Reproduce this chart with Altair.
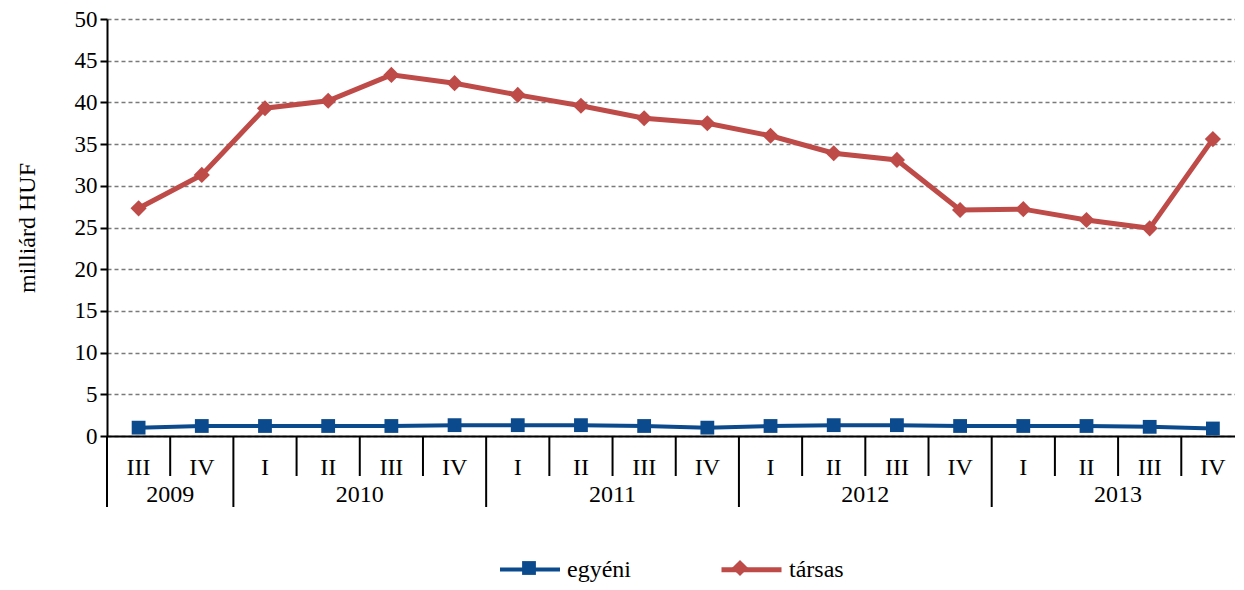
import altair as alt
import pandas as pd

years = ["2009", "2009", "2010", "2010", "2010", "2010", "2011", "2011", "2011", "2011",
         "2012", "2012", "2012", "2012", "2013", "2013", "2013", "2013"]
quarters = ["III", "IV", "I", "II", "III", "IV", "I", "II", "III", "IV",
            "I", "II", "III", "IV", "I", "II", "III", "IV"]
egyeni = [1.0, 1.2, 1.2, 1.2, 1.2, 1.3, 1.3, 1.3, 1.2, 1.0,
          1.2, 1.3, 1.3, 1.2, 1.2, 1.2, 1.1, 0.9]
tarsas = [27.3, 31.3, 39.3, 40.2, 43.3, 42.3, 40.9, 39.6, 38.1, 37.5,
          36.0, 33.9, 33.1, 27.1, 27.2, 25.9, 24.9, 35.6]
series_names = ["egyéni", "társas"]
colors = ["#0B4A8C", "#BE4B48"]
widths = [4, 5]
shapes = ["M-0.23,-0.23H0.23V0.23H-0.23Z", "M0,-0.27L0.27,0L0,0.27L-0.27,0Z"]

FONT = "Liberation Serif"
FS = 24
W, H = 1128, 417
XDOM = [0, 17.85]

n = len(quarters)
pos = [i + 0.5 for i in range(n)]
df = pd.DataFrame({
    "pos": pos * 2,
    "value": egyeni + tarsas,
    "series": [series_names[0]] * n + [series_names[1]] * n,
})
qdf = pd.DataFrame({"pos": pos, "quarter": quarters, "year": years,
                    "b": [p - 0.5 for p in pos]})
qdf["long"] = (qdf["quarter"] == "I") | (qdf["b"] == 0)
ydf = qdf.groupby("year", as_index=False)["pos"].mean()

xs = alt.Scale(domain=XDOM, nice=False, zero=False)
ys = alt.Scale(domain=[0, 50], nice=False)

base_x_axis = alt.Axis(labels=False, ticks=False, grid=False, title=None,
                       domain=True, domainColor="black", domainWidth=2)

short_rules = alt.Chart(qdf).transform_filter("!datum.long").mark_rule(
    color="black", strokeWidth=2).encode(
    x=alt.X("b:Q", scale=xs, axis=base_x_axis),
    y=alt.value(H), y2=alt.value(H + 40))
long_rules = alt.Chart(qdf).transform_filter("datum.long").mark_rule(
    color="black", strokeWidth=2).encode(
    x=alt.X("b:Q", scale=xs), y=alt.value(H), y2=alt.value(H + 71))
qtext = alt.Chart(qdf).mark_text(font=FONT, fontSize=FS, color="black",
                                 baseline="middle", align="center").encode(
    x=alt.X("pos:Q", scale=xs), y=alt.value(H + 32), text="quarter:N")
ytext = alt.Chart(ydf).mark_text(font=FONT, fontSize=FS, color="black",
                                 baseline="middle", align="center").encode(
    x=alt.X("pos:Q", scale=xs), y=alt.value(H + 59), text="year:N")

legend_common = dict(orient="none", legendX=391, legendY=518, direction="horizontal",
                     title=None, symbolSize=3600, labelFont=FONT, labelFontSize=FS,
                     labelColor="black", labelOffset=5, columnPadding=80)

lines = alt.Chart(df).mark_line().encode(
    x=alt.X("pos:Q", scale=xs),
    y=alt.Y("value:Q", scale=ys, axis=alt.Axis(
        values=list(range(0, 51, 5)), title="milliárd HUF")),
    stroke=alt.Stroke("series:N", scale=alt.Scale(domain=series_names, range=colors),
                      legend=alt.Legend(symbolType="stroke", symbolStrokeWidth=4.5,
                                        **legend_common)),
    strokeWidth=alt.StrokeWidth("series:N", scale=alt.Scale(domain=series_names, range=widths),
                                legend=None),
    detail="series:N")

points = alt.Chart(df).mark_point(filled=True, size=3600, opacity=1).encode(
    x=alt.X("pos:Q", scale=xs),
    y=alt.Y("value:Q", scale=ys),
    fill=alt.Fill("series:N", scale=alt.Scale(range=colors),
                  legend=alt.Legend(labelOpacity=0, **legend_common)),
    shape=alt.Shape("series:N", scale=alt.Scale(range=shapes),
                    legend=alt.Legend(labelOpacity=0, **legend_common)))

chart = alt.layer(short_rules, long_rules, qtext, ytext, lines, points).properties(
    width=W, height=H,
    autosize=alt.AutoSizeParams(type="none"),
    padding={"left": 99, "top": 11, "right": 0, "bottom": 146},
    background="white",
).configure_view(stroke=None).configure_axisY(
    domainColor="black", domainWidth=2, tickColor="black", tickSize=7, tickWidth=2,
    gridColor="#7a7a7a", gridDash=[4, 3], gridWidth=1.5,
    labelFont=FONT, labelFontSize=23, labelColor="black", labelPadding=3,
    titleFont=FONT, titleFontSize=FS, titleFontWeight="normal", titleColor="black",
    titlePadding=35,
)

chart.save("out.html", embed_options={"renderer": "svg", "actions": False})
